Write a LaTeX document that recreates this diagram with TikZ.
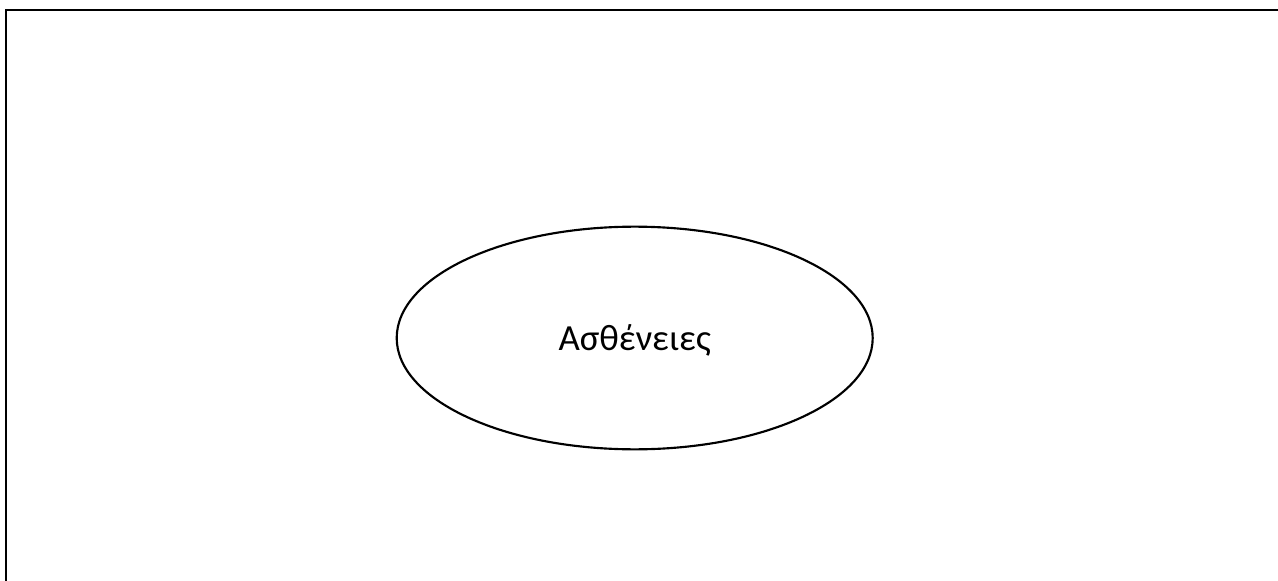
\documentclass[tikz,border=0pt]{standalone}
\usepackage{fontspec}
\setmainfont{Carlito}
\usetikzlibrary{shapes.geometric}

\begin{document}
\begin{tikzpicture}[x=.75pt, y=-.75pt]
            \useasboundingbox[fill=white] (0,0) rectangle (1278,581);
            \draw[line width=2pt] (6,10) rectangle (1300,600);
            \node[draw, ellipse, line width=1.6pt, minimum width=357pt, minimum height=167pt, inner sep=0pt, text depth=0pt, font=\fontsize{27.6}{33}\selectfont] (disease) at (634.7,338) {Ασθένειες};
        \end{tikzpicture}
\end{document}
